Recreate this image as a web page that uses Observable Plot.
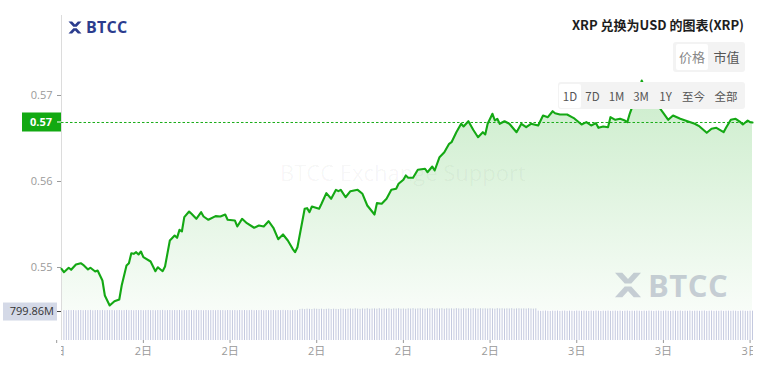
<!DOCTYPE html>
<html><head><meta charset="utf-8">
<script src="https://cdn.jsdelivr.net/npm/d3@7"></script>
<script src="https://cdn.jsdelivr.net/npm/@observablehq/plot@0.6"></script>
<style>
html,body{margin:0;padding:0;background:#fff;}
body{width:768px;height:366px;position:relative;overflow:hidden;font-family:"Open Sans","Noto Sans CJK SC",sans-serif;}
.abs{position:absolute;}
#wm{left:280px;top:157px;font-size:22px;line-height:30px;color:rgba(0,0,0,0.045);white-space:nowrap;}
#p1{left:0;top:0;} #p2{left:0;top:296px;}
#logo{left:68px;top:16px;height:22px;display:flex;align-items:center;}
#logo span{font-weight:700;font-size:16px;color:#2b3c8e;margin-left:4px;letter-spacing:0.3px;}
#wlogo{left:614px;top:264px;display:flex;align-items:center;opacity:0.42;}
#wlogo span{font-weight:700;font-size:31px;color:#8690a8;margin-left:6px;letter-spacing:0.5px;}
#title{right:24px;top:15px;font-weight:700;font-size:13px;color:#1d1d1d;font-family:"Noto Sans CJK SC",sans-serif;white-space:nowrap;}
.seg{background:#f3f3f3;border-radius:3px;}
.btn{position:absolute;top:2px;height:24px;line-height:24px;text-align:center;font-size:11.5px;color:#555;font-family:"Noto Sans CJK SC",sans-serif;border-radius:2px;}
.sel{background:#fff;}
.clip{background:#fff;}
</style></head>
<body>
<div id="wm" class="abs">BTCC Exchange Support</div>
<div id="p1" class="abs"></div>
<div id="p2" class="abs"></div>
<div class="abs clip" style="left:0;top:344px;width:61px;height:22px"></div>
<div class="abs clip" style="left:753px;top:344px;width:15px;height:22px"></div>
<div id="wlogo" class="abs"><svg width="28" height="26" viewBox="0 0 16 15"><path d="M0.5 0.5h4.2l3.3 3.6 3.3-3.6h4.2l-5.6 6.1h-3.8z" fill="#8690a8"/><path d="M0.5 14.5h4.2l3.3-3.6 3.3 3.6h4.2l-5.6-6.1h-3.8z" fill="#8690a8"/></svg><span>BTCC</span></div>
<div id="logo" class="abs"><svg width="14" height="13" viewBox="0 0 16 15"><path d="M0.5 0.5h4.2l3.3 3.6 3.3-3.6h4.2l-5.6 6.1h-3.8z" fill="#2b3c8e"/><path d="M0.5 14.5h4.2l3.3-3.6 3.3 3.6h4.2l-5.6-6.1h-3.8z" fill="#2b3c8e"/></svg><span>BTCC</span></div>
<div id="title" class="abs">XRP 兑换为USD 的图表(XRP)</div>
<div class="abs seg" style="left:673px;top:42px;width:72px;height:30px">
  <div class="btn sel" style="left:3px;width:32px;top:2px;height:26px;line-height:26px;color:#888;font-size:13px">价格</div>
  <div class="btn" style="left:36px;width:35px;top:2px;height:26px;line-height:26px;font-size:13px">市值</div>
</div>
<div class="abs seg" style="left:558px;top:82px;width:187px;height:27px">
  <div class="btn sel" style="left:1px;width:22px">1D</div>
  <div class="btn" style="left:23px;width:23px">7D</div>
  <div class="btn" style="left:46px;width:25px">1M</div>
  <div class="btn" style="left:71px;width:24px">3M</div>
  <div class="btn" style="left:95px;width:25px">1Y</div>
  <div class="btn" style="left:120px;width:31px">至今</div>
  <div class="btn" style="left:151px;width:34px">全部</div>
</div>
<script>
// ---- data ----
const times = ["2 06:10","2 06:15","2 06:25","2 06:30","2 06:40","2 06:50","2 06:55","2 07:05","2 07:10","2 07:20","2 07:25","2 07:35","2 07:40","2 07:50","2 08:00","2 08:10","2 08:15","2 08:25","2 08:30","2 08:35","2 08:40","2 08:45","2 08:50","2 08:55","2 09:00","2 09:15","2 09:25","2 09:30","2 09:40","2 09:45","2 09:55","2 10:05","2 10:10","2 10:15","2 10:20","2 10:25","2 10:35","2 10:40","2 10:50","2 11:00","2 11:05","2 11:15","2 11:30","2 11:40","2 11:50","2 11:55","2 12:10","2 12:15","2 12:25","2 12:35","2 12:50","2 13:00","2 13:10","2 13:20","2 13:30","2 13:40","2 13:50","2 14:00","2 14:10","2 14:15","2 14:20","2 14:35","2 14:40","2 14:45","2 14:50","2 15:05","2 15:10","2 15:20","2 15:30","2 15:40","2 15:45","2 15:50","2 16:00","2 16:10","2 16:25","2 16:35","2 16:45","2 16:55","2 17:00","2 17:05","2 17:15","2 17:25","2 17:35","2 17:45","2 17:50","2 18:00","2 18:05","2 18:10","2 18:20","2 18:30","2 18:45","2 18:50","2 19:00","2 19:05","2 19:15","2 19:25","2 19:35","2 19:40","2 19:50","2 20:00","2 20:05","2 20:15","2 20:25","2 20:35","2 20:45","2 20:50","2 20:55","2 21:05","2 21:10","2 21:15","2 21:20","2 21:30","2 21:40","2 21:55","2 22:05","2 22:15","2 22:25","2 22:40","2 22:50","2 23:00","2 23:10","2 23:15","2 23:25","2 23:40","2 23:50","2 23:55","3 00:10","3 00:20","3 00:30","3 00:40","3 00:45","3 00:55","3 01:05","3 01:10","3 01:20","3 01:30","3 01:40","3 01:45","3 01:50","3 02:00","3 02:10","3 02:15","3 02:25","3 02:40","3 02:50","3 03:00","3 03:10","3 03:20","3 03:35","3 03:50","3 04:05","3 04:15","3 04:30","3 04:40","3 04:50","3 05:05","3 05:10","3 05:20","3 05:30","3 05:40","3 05:45","3 05:55","3 06:00","3 06:05"];
const prices = [0.54985,0.54945,0.54997,0.54973,0.55035,0.5505,0.55031,0.54977,0.54997,0.54953,0.54965,0.54849,0.54674,0.54558,0.54608,0.54628,0.54791,0.55023,0.5505,0.55166,0.55159,0.55178,0.55151,0.55186,0.5512,0.5507,0.54957,0.55003,0.54957,0.55012,0.55314,0.55372,0.55345,0.55438,0.55419,0.55585,0.55651,0.55624,0.55566,0.55643,0.55593,0.55555,0.55597,0.55593,0.55616,0.55555,0.55547,0.55477,0.55566,0.55515,0.55462,0.55488,0.55477,0.55538,0.55462,0.55329,0.55384,0.55314,0.55217,0.55178,0.55236,0.55683,0.5569,0.55643,0.55709,0.55683,0.55741,0.55864,0.55799,0.55903,0.55887,0.55903,0.55817,0.55887,0.55903,0.55857,0.55721,0.55651,0.55616,0.55748,0.55741,0.55799,0.55903,0.55915,0.55973,0.5602,0.5607,0.56043,0.56043,0.56136,0.56148,0.56108,0.56174,0.56128,0.56283,0.5634,0.56438,0.56457,0.56573,0.56671,0.5664,0.56701,0.56601,0.56515,0.56573,0.56547,0.56671,0.56787,0.56709,0.56729,0.56671,0.56701,0.56671,0.56573,0.56671,0.56631,0.56671,0.56651,0.56767,0.56748,0.56817,0.56794,0.56779,0.56779,0.56748,0.56733,0.56663,0.5669,0.56651,0.56678,0.56624,0.5664,0.56631,0.56748,0.56717,0.56729,0.56709,0.5669,0.56787,0.56942,0.57058,0.57174,0.57035,0.56942,0.56872,0.56794,0.56717,0.56767,0.56729,0.56701,0.56671,0.5664,0.56566,0.56613,0.56624,0.56573,0.56624,0.56717,0.56729,0.5669,0.56663,0.56709,0.5669,0.56686];
// 5-minute volume bars (millions), starting at 2日 06:10
const volumes = [
838,841,836,844,839,842,835,840,843,837,841,839,845,836,840,842,838,844,837,841,839,843,836,840,
842,837,840,845,838,841,836,843,839,842,837,840,844,838,841,836,842,839,845,837,840,843,838,841,
839,844,836,841,838,842,840,837,845,839,841,836,843,838,840,842,837,844,839,841,836,843,840,838,
841,836,843,839,842,838,840,845,837,841,839,844,836,842,838,840,843,837,841,839,845,838,842,836,
840,843,838,872,878,868,881,875,870,884,877,873,880,869,876,882,871,879,874,868,883,877,872,880,
886,878,891,882,875,888,880,893,877,885,889,881,894,879,887,883,890,876,888,884,892,880,886,878,
890,884,895,881,888,893,886,879,891,887,896,882,889,885,894,880,892,886,890,883,895,888,881,893,
887,891,884,896,889,882,894,886,890,885,893,888,881,895,887,892,884,890,886,894,882,889,891,885,
890,884,893,887,881,889,826,819,824,828,821,817,825,822,829,818,823,827,820,826,822,819,828,824,
821,827,823,818,826,820,829,824,817,825,822,828,819,823,827,821,826,818,824,829,820,825,822,828,
823,819,826,821,828,824,818,825,827,820,823,829,822,817,826,824,821,828,819,825,822,827,820,824,
826,821,824,829,818,823,827,820,825,822,828,819,824,826,821,827,823,818,825,829,822,820,826,824];
const domainStart = "2 06:10", domainEnd = "3 06:05";
const xTicks = ["2 06:00","2 09:00","2 12:00","2 15:00","2 18:00","2 21:00","3 00:00","3 03:00","3 06:00"];
const yTicks = [0.55, 0.56, 0.57];
const volMark = 799.86;

// ---- build ----
const parse = d3.utcParse("%d %H:%M");
const x0 = parse(domainStart), x1 = parse(domainEnd);
const data = times.map((t, i) => ({t: parse(t), p: prices[i]}));
const last = prices[prices.length - 1];
const volData = volumes.map((v, i) => ({t: d3.utcMinute.offset(x0, 5 * i), v}));
const FONT = '"Open Sans","Noto Sans CJK SC",sans-serif';
const GREEN = "#14a814";

const p1 = Plot.plot({
  width: 768, height: 310, marginTop: 15, marginBottom: 0, marginLeft: 61, marginRight: 16,
  style: {background: "transparent", color: "#9a9a9a", fontSize: "11px", fontFamily: FONT, overflow: "visible"},
  x: {type: "utc", domain: [x0, x1], axis: null},
  y: {domain: [0.545, 0.5793], axis: null},
  marks: [
    () => {
      const defs = d3.create("svg:defs");
      const g = defs.append("linearGradient").attr("id", "areaGrad")
        .attr("gradientUnits", "userSpaceOnUse").attr("x1", 0).attr("x2", 0).attr("y1", 80).attr("y2", 310);
      g.append("stop").attr("offset", "0%").attr("stop-color", "#1aad19").attr("stop-opacity", 0.23);
      g.append("stop").attr("offset", "100%").attr("stop-color", "#1aad19").attr("stop-opacity", 0.03);
      return defs.node();
    },
    Plot.areaY(data, {x: "t", y1: 0.545, y2: "p", fill: "url(#areaGrad)"}),
    Plot.ruleX([x0], {stroke: "#dcdcdc", strokeWidth: 1}),
    Plot.axisY(yTicks, {tickFormat: ".2f", tickSize: 4, tickPadding: 5, fontSize: 11, label: null}),
    Plot.ruleY([last], {stroke: "#1aad19", strokeWidth: 1, strokeDasharray: "2.5,2"}),
    Plot.lineY(data, {x: "t", y: "p", stroke: GREEN, strokeWidth: 2.1}),
    (index, scales, values, dims) => {
      const y = scales.y(last), ml = dims.marginLeft;
      const g = d3.create("svg:g");
      g.append("rect").attr("x", ml - 39).attr("y", y - 9.5).attr("width", 39).attr("height", 19).attr("fill", "#12a912");
      g.append("line").attr("x1", ml - 4).attr("x2", ml).attr("y1", y).attr("y2", y).attr("stroke", "#fff");
      g.append("text").attr("x", ml - 9).attr("y", y).attr("dy", "0.35em").attr("text-anchor", "end")
        .attr("fill", "#fff").attr("font-weight", 700).attr("font-size", 11).attr("font-family", FONT)
        .text(d3.format(".2f")(last));
      return g.node();
    }
  ]
});
document.getElementById("p1").appendChild(p1);

const p2 = Plot.plot({
  width: 768, height: 70, marginTop: 8.4, marginBottom: 26, marginLeft: 61, marginRight: 16,
  style: {background: "transparent", color: "#9a9a9a", fontSize: "11px", fontFamily: FONT, overflow: "visible"},
  x: {type: "utc", domain: [x0, x1], axis: null},
  y: {domain: [0, 1000], axis: null},
  marks: [
    Plot.ruleX(volData, {x: "t", y1: 0, y2: "v", stroke: "#c4c9df", strokeWidth: 1}),
    Plot.ruleX([x0], {stroke: "#dcdcdc", strokeWidth: 1}),
    Plot.axisX(xTicks.map(parse), {tickFormat: d => d.getUTCDate() + "日", tickSize: 3, tickPadding: 4, fontSize: 11, label: null}),
    (index, scales, values, dims) => {
      const y = scales.y(volMark), ml = dims.marginLeft;
      const g = d3.create("svg:g");
      g.append("rect").attr("x", ml - 58).attr("y", y - 9).attr("width", 54).attr("height", 18).attr("fill", "#d4d9e7");
      g.append("line").attr("x1", ml - 4).attr("x2", ml).attr("y1", y).attr("y2", y).attr("stroke", "#444");
      g.append("text").attr("x", ml - 7).attr("y", y).attr("dy", "0.35em").attr("text-anchor", "end")
        .attr("fill", "#333").attr("font-size", 11).attr("font-family", FONT)
        .text(d3.format(".2f")(volMark) + "M");
      return g.node();
    }
  ]
});
document.getElementById("p2").appendChild(p2);
</script>
</body></html>
